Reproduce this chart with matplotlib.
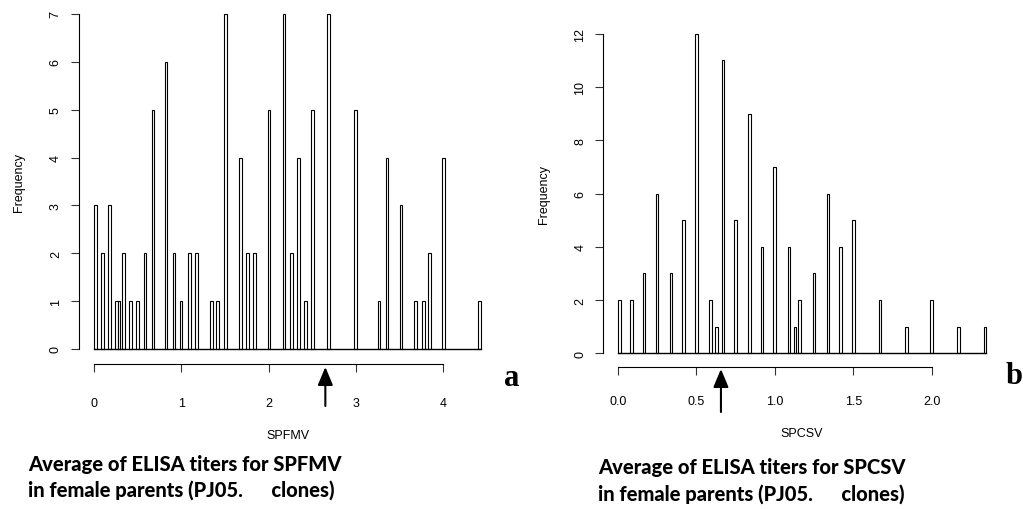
import matplotlib
matplotlib.use("Agg")
import matplotlib.pyplot as plt
import numpy as np

plt.rcParams['font.family'] = ['Liberation Sans', 'DejaVu Sans']

# panel a: SPFMV histogram (bin left edge, count)
spfmv_x = [0.0, 0.08, 0.16, 0.24, 0.27, 0.32, 0.40, 0.48, 0.57, 0.66, 0.81, 0.90,
           0.98, 1.08, 1.16, 1.33, 1.40, 1.49, 1.66, 1.74, 1.82, 1.99, 2.16, 2.25,
           2.33, 2.41, 2.49, 2.67, 2.98, 3.25, 3.34, 3.50, 3.67, 3.76, 3.83, 3.99, 4.40]
spfmv_n = [3, 2, 3, 1, 1, 2, 1, 1, 2, 5, 6, 2, 1, 2, 2, 1, 1, 7, 4, 2, 2, 5, 7, 2,
           4, 1, 5, 7, 5, 1, 4, 3, 1, 1, 2, 4, 1]
spfmv_mean = 2.65

# panel b: SPCSV histogram
spcsv_x = [0.0, 0.076, 0.157, 0.24, 0.33, 0.41, 0.49, 0.58, 0.62, 0.66, 0.74, 0.83,
           0.91, 0.99, 1.08, 1.12, 1.15, 1.24, 1.33, 1.41, 1.49, 1.66, 1.83, 1.99,
           2.16, 2.33]
spcsv_n = [2, 2, 3, 6, 3, 5, 12, 2, 1, 11, 5, 9, 4, 7, 4, 1, 2, 3, 6, 4, 5, 2, 1, 2, 1, 1]
spcsv_mean = 0.656

title_a = "Average of ELISA titers for SPFMV\nin female parents (PJ05.      clones)"
title_b = "Average of ELISA titers for SPCSV\nin female parents (PJ05.      clones)"

W, H = 1023, 510
fig = plt.figure(figsize=(W / 100, H / 100), dpi=100)


def px_axes(l, r, t, b):
    return fig.add_axes([l / W, 1 - b / H, (r - l) / W, (b - t) / H])


def r_hist(ax, xs, ns, width, xlim, ylim, xticks, yticks, xlabel, xfmt, xpad):
    ax.bar(xs, ns, width=width, align='edge', facecolor='white',
           edgecolor='black', linewidth=0.8)
    ax.plot([min(xs), max(xs) + width], [0, 0], color='black', lw=1.0)
    ax.set_xlim(*xlim)
    ax.set_ylim(*ylim)
    for s in ['top', 'right']:
        ax.spines[s].set_visible(False)
    ax.spines['left'].set_bounds(yticks[0], yticks[-1])
    ax.spines['bottom'].set_bounds(xticks[0], xticks[-1])
    ax.spines['bottom'].set_position(('outward', 1))
    ax.set_xticks(xticks)
    ax.set_xticklabels([xfmt.format(v) for v in xticks])
    ax.set_yticks(yticks)
    ax.set_yticklabels([str(v) for v in yticks], rotation=90, va='center')
    ax.tick_params(axis='both', direction='out', length=6, width=0.8,
                   labelsize=9, color='#333333')
    ax.tick_params(axis='x', pad=xpad)
    ax.tick_params(axis='y', pad=6)
    ax.set_xlabel(xlabel, fontsize=9, labelpad=14)
    ax.set_ylabel("Frequency", fontsize=9, labelpad=18)


ax1 = px_axes(78.5, 498, 1.6, 363.4)
r_hist(ax1, spfmv_x, spfmv_n, 0.03, (-0.178, 4.628), (-0.28, 7.28),
       [0, 1, 2, 3, 4], list(range(0, 8)), "SPFMV", "{:d}", 18)

ax2 = px_axes(603.2, 1001, 22.0, 367.1)
r_hist(ax2, spcsv_x, spcsv_n, 0.017, (-0.094, 2.44), (-0.48, 12.48),
       [0.0, 0.5, 1.0, 1.5, 2.0], list(range(0, 13, 2)), "SPCSV", "{:.1f}", 14)

arrow = dict(arrowstyle='-|>,head_length=0.55,head_width=0.23', color='black',
             lw=1.5, mutation_scale=20, shrinkA=0, shrinkB=0)
ax1.annotate('', xy=(spfmv_mean, 1 - 368 / H), xytext=(spfmv_mean, 1 - 407 / H),
             xycoords=('data', 'figure fraction'), textcoords=('data', 'figure fraction'),
             arrowprops=arrow, annotation_clip=False)
ax2.annotate('', xy=(spcsv_mean, 1 - 370 / H), xytext=(spcsv_mean, 1 - 413 / H),
             xycoords=('data', 'figure fraction'), textcoords=('data', 'figure fraction'),
             arrowprops=arrow, annotation_clip=False)

fig.text(512 / W, 1 - 378 / H, "a", fontsize=22, fontweight='bold',
         family='Liberation Serif', ha='center', va='center')
fig.text(1006 / W, 1 - 376 / H, "b", fontsize=22, fontweight='bold',
         family='Liberation Serif', ha='left', va='center')

fig.text(28 / W, 1 - 477.5 / H, title_a, fontsize=14.5, fontweight='black',
         family=['Lato', 'DejaVu Sans'], ha='left', va='center', linespacing=1.4)
fig.text(598 / W, 1 - 481 / H, title_b, fontsize=14.5, fontweight='black',
         family=['Lato', 'DejaVu Sans'], ha='left', va='center', linespacing=1.4)

fig.savefig("out.png", dpi=100)
